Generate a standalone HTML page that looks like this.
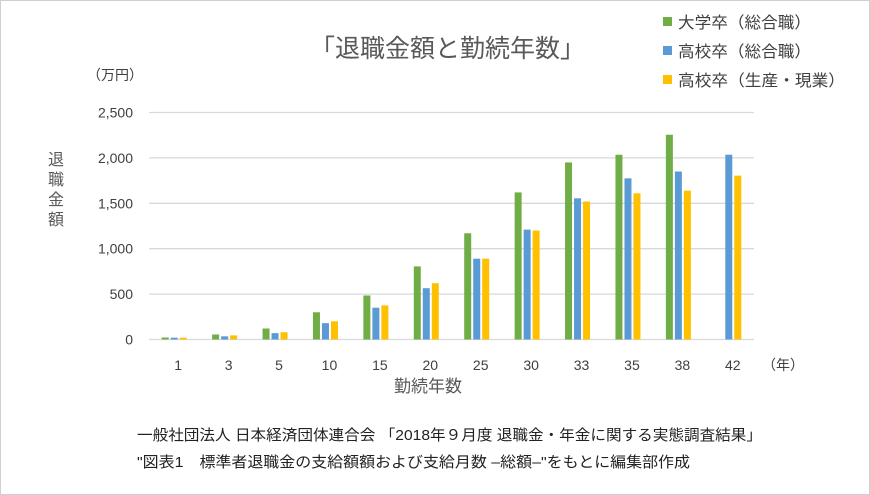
<!DOCTYPE html>
<html><head><meta charset="utf-8"><style>
body{margin:0;width:870px;height:495px;background:#fff;overflow:hidden}
svg{display:block;font-family:"Liberation Sans","Noto Sans CJK JP",sans-serif}
</style></head><body>
<svg width="870" height="495">
<rect x="0.5" y="0.5" width="869" height="494" fill="#fff" stroke="#d0d0d0"/>
<text x="310" y="57" font-size="25" fill="#595959" textLength="275" lengthAdjust="spacingAndGlyphs">「退職金額と勤続年数」</text>
<g id="legend"></g>
<text x="87" y="80" font-size="14" fill="#404040">（万円）</text>
<text font-size="16" fill="#595959"><tspan x="48" y="165">退</tspan><tspan x="48" y="185">職</tspan><tspan x="48" y="205">金</tspan><tspan x="48" y="225">額</tspan></text>
<g id="grid"></g><g id="bars"></g><g id="xl"></g>
<text x="762" y="370" font-size="14" fill="#404040">（年）</text>
<text x="428" y="392" font-size="17" fill="#595959" text-anchor="middle">勤続年数</text>
<text x="137" y="440" font-size="15" fill="#222" textLength="625" lengthAdjust="spacingAndGlyphs">一般社団法人 日本経済団体連合会 「2018年９月度 退職金・年金に関する実態調査結果」</text>
<text x="137" y="467" font-size="15" fill="#222" textLength="553" lengthAdjust="spacingAndGlyphs">"図表1　標準者退職金の支給額額および支給月数 –総額–"をもとに編集部作成</text>
</svg>
<script>
const categories=["1","3","5","10","15","20","25","30","33","35","38","42"];
const seriesNames=["大学卒（総合職）","高校卒（総合職）","高校卒（生産・現業）"];
const univ=[22,55,121,300,485,805,1170,1620,1950,2035,2255,null];
const highSogo=[20,35,70,180,350,565,890,1210,1555,1775,1850,2035];
const highGenba=[20,45,80,200,375,620,890,1200,1520,1610,1640,1805];
const yTicks=[0,500,1000,1500,2000,2500];
const yTickLabels=["0","500","1,000","1,500","2,000","2,500"];
const colors=["#70ad47","#5b9bd5","#ffc000"];
const NS="http://www.w3.org/2000/svg";
const L=149,R=754,T=112.5,B=339.5,YMAX=2500;
const y=v=>B-(v/YMAX)*(B-T);
const band=(R-L)/categories.length;
const xc=i=>L+band*(i+0.5);
function mk(t,a,p){const e=document.createElementNS(NS,t);for(const k in a)e.setAttribute(k,a[k]);p.appendChild(e);return e;}
const grid=document.getElementById('grid');
yTicks.forEach((v,i)=>{
 const l=mk('line',{x1:L,x2:R,y1:y(v),y2:y(v),stroke:'#d9d9d9','stroke-width':1.3},grid);
 
 
 const t=mk('text',{x:133,y:y(v)+5,'font-size':14,fill:'#404040','text-anchor':'end'},grid);
 t.textContent=yTickLabels[i];
 
 
});
const bars=document.getElementById('bars');
[univ,highSogo,highGenba].forEach((s,si)=>{
 s.forEach((v,i)=>{
  if(v==null)return;
  const r=mk('rect',{x:xc(i)-12.5+si*9,y:y(v),width:7,height:B-y(v),fill:colors[si]},bars);
  
  
 });
});
const xl=document.getElementById('xl');
categories.forEach((c,i)=>{
 const t=mk('text',{x:xc(i)+4,y:370,'font-size':14,fill:'#404040','text-anchor':'middle'},xl);
 t.textContent=c;
 
 
});
const lg=document.getElementById('legend');
const legendLens=[133,133,167];
seriesNames.forEach((n,i)=>{
 const r=mk('rect',{x:663,y:17+i*29,width:9,height:9,fill:colors[i]},lg);
 
 
 const t=mk('text',{x:678,y:28+i*29,'font-size':16,fill:'#404040',textLength:legendLens[i],lengthAdjust:'spacingAndGlyphs'},lg);
 t.textContent=n;
 
 
});
</script>
</body></html>
